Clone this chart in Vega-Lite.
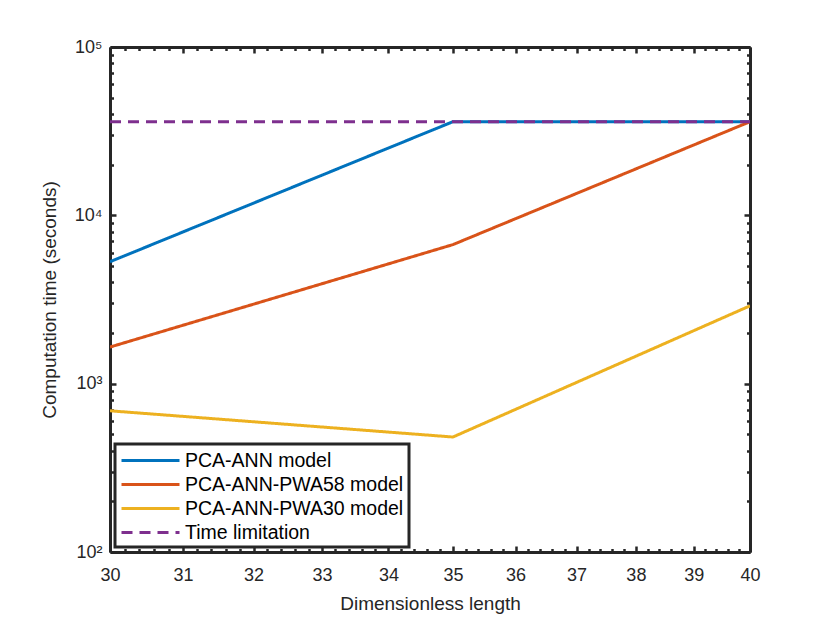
{
  "$schema": "https://vega.github.io/schema/vega-lite/v6.json",
  "width": 640,
  "height": 505,
  "autosize": "none",
  "padding": {"left": 110, "top": 47, "right": 80, "bottom": 71},
  "background": "white",
  "config": {
    "font": "Liberation Sans",
    "view": {"stroke": null},
    "axis": {
      "grid": false,
      "domainColor": "#262626",
      "domainWidth": 3,
      "tickColor": "#262626",
      "tickWidth": 2.5,
      "labelColor": "#262626",
      "labelFont": "Liberation Sans",
      "labelFontSize": 18,
      "titleFont": "Liberation Sans",
      "titleFontSize": 19,
      "titleFontWeight": "normal",
      "titleColor": "#262626",
      "labelOverlap": false,
      "labelFlush": false
    },
    "legend": {
      "strokeColor": "#262626",
      "strokeWidth": 3,
      "fillColor": "white"
    }
  },
  "data": {
    "values": [
      {"length": 30, "time": 5300, "series": "PCA-ANN model"},
      {"length": 35, "time": 36000, "series": "PCA-ANN model"},
      {"length": 40, "time": 36000, "series": "PCA-ANN model"},
      {"length": 30, "time": 1650, "series": "PCA-ANN-PWA58 model"},
      {"length": 35, "time": 6700, "series": "PCA-ANN-PWA58 model"},
      {"length": 40, "time": 36000, "series": "PCA-ANN-PWA58 model"},
      {"length": 30, "time": 690, "series": "PCA-ANN-PWA30 model"},
      {"length": 35, "time": 482, "series": "PCA-ANN-PWA30 model"},
      {"length": 40, "time": 2900, "series": "PCA-ANN-PWA30 model"},
      {"length": 30, "time": 36000, "series": "Time limitation"},
      {"length": 40, "time": 36000, "series": "Time limitation"}
    ]
  },
  "resolve": {"axis": {"x": "independent", "y": "independent"}},
  "layer": [
    {
      "mark": {"type": "line", "strokeWidth": 3, "clip": true},
      "encoding": {
        "x": {
          "field": "length",
          "type": "quantitative",
          "scale": {"type": "log", "domain": [30, 40], "nice": false},
          "axis": {
            "orient": "bottom",
            "title": "Dimensionless length",
            "values": [30,30.2,30.4,30.6,30.8,31,31.2,31.4,31.6,31.8,32,32.2,32.4,32.6,32.8,33,33.2,33.4,33.6,33.8,34,34.2,34.4,34.6,34.8,35,35.2,35.4,35.6,35.8,36,36.2,36.4,36.6,36.8,37,37.2,37.4,37.6,37.8,38,38.2,38.4,38.6,38.8,39,39.2,39.4,39.6,39.8,40],
            "labelExpr": "abs(datum.value - round(datum.value)) < 0.01 ? format(datum.value, 'd') : ''",
            "tickSize": {"condition": {"test": "abs(datum.value - round(datum.value)) < 0.01", "value": -6}, "value": -3.5},
            "labelPadding": 20,
            "titlePadding": 8
          }
        },
        "y": {
          "field": "time",
          "type": "quantitative",
          "scale": {"type": "log", "domain": [100, 100000], "nice": false},
          "axis": {
            "orient": "left",
            "title": "Computation time (seconds)",
            "values": [100,200,300,400,500,600,700,800,900,1000,2000,3000,4000,5000,6000,7000,8000,9000,10000,20000,30000,40000,50000,60000,70000,80000,90000,100000],
            "labelExpr": "datum.value == 100 ? '10²' : datum.value == 1000 ? '10³' : datum.value == 10000 ? '10⁴' : datum.value == 100000 ? '10⁵' : ''",
            "tickSize": {"condition": {"test": "datum.value == 100 || datum.value == 1000 || datum.value == 10000 || datum.value == 100000", "value": -6}, "value": -3.5},
            "labelPadding": 14,
            "titlePadding": 15
          }
        },
        "color": {
          "field": "series",
          "type": "nominal",
          "scale": {
            "domain": ["PCA-ANN model", "PCA-ANN-PWA58 model", "PCA-ANN-PWA30 model", "Time limitation"],
            "range": ["#0072BD", "#D95319", "#EDB120", "#7E2F8E"]
          },
          "legend": {
            "orient": "bottom-left",
            "offset": 5,
            "title": null,
            "labelFontSize": 19.5,
            "labelColor": "black",
            "labelFont": "Liberation Sans",
            "labelLimit": 400,
            "symbolType": "M-2.9,0H2.9",
            "symbolSize": 400,
            "symbolStrokeWidth": 3,
            "symbolOffset": 19,
            "labelOffset": 23,
            "rowPadding": 3,
            "padding": 5
          }
        },
        "strokeDash": {
          "field": "series",
          "type": "nominal",
          "scale": {
            "domain": ["PCA-ANN model", "PCA-ANN-PWA58 model", "PCA-ANN-PWA30 model", "Time limitation"],
            "range": [[1, 0], [1, 0], [1, 0], [11, 7]]
          },
          "legend": {
            "orient": "bottom-left",
            "offset": 5,
            "title": null,
            "labelFontSize": 19.5,
            "labelColor": "black",
            "labelFont": "Liberation Sans",
            "labelLimit": 400,
            "symbolType": "M-2.9,0H2.9",
            "symbolSize": 400,
            "symbolStrokeWidth": 3,
            "symbolOffset": 19,
            "labelOffset": 23,
            "rowPadding": 3,
            "padding": 5
          }
        },
        "order": {"field": "length", "type": "quantitative"}
      }
    },
    {
      "mark": {"type": "line", "opacity": 0},
      "encoding": {
        "x": {
          "field": "length",
          "type": "quantitative",
          "axis": {
            "orient": "top",
            "title": null,
            "labels": false,
            "values": [30,30.2,30.4,30.6,30.8,31,31.2,31.4,31.6,31.8,32,32.2,32.4,32.6,32.8,33,33.2,33.4,33.6,33.8,34,34.2,34.4,34.6,34.8,35,35.2,35.4,35.6,35.8,36,36.2,36.4,36.6,36.8,37,37.2,37.4,37.6,37.8,38,38.2,38.4,38.6,38.8,39,39.2,39.4,39.6,39.8,40],
            "tickSize": {"condition": {"test": "abs(datum.value - round(datum.value)) < 0.01", "value": -6}, "value": -3.5}
          }
        },
        "y": {
          "field": "time",
          "type": "quantitative",
          "axis": {
            "orient": "right",
            "title": null,
            "labels": false,
            "values": [100,200,300,400,500,600,700,800,900,1000,2000,3000,4000,5000,6000,7000,8000,9000,10000,20000,30000,40000,50000,60000,70000,80000,90000,100000],
            "tickSize": {"condition": {"test": "datum.value == 100 || datum.value == 1000 || datum.value == 10000 || datum.value == 100000", "value": -6}, "value": -3.5}
          }
        },
        "detail": {"field": "series", "type": "nominal"}
      }
    }
  ]
}
